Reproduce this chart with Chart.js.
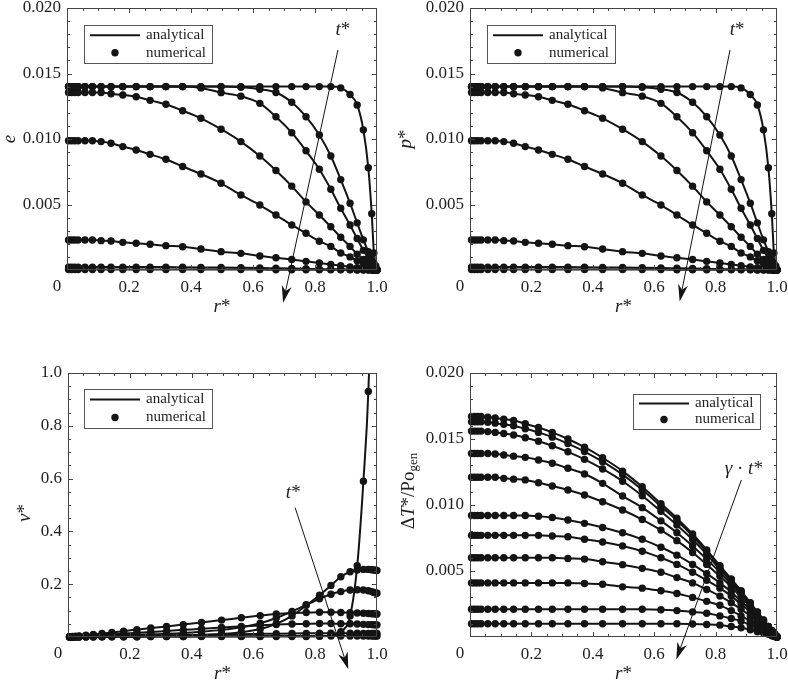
<!DOCTYPE html>
<html>
<head>
<meta charset="utf-8">
<script src="https://cdn.jsdelivr.net/npm/chart.js@4.4.1/dist/chart.umd.min.js"></script>
<style>
  html, body { margin: 0; padding: 0; background: #fff; overflow: hidden; }
  #wrap { position: relative; width: 788px; height: 682px; }
  canvas { position: absolute; }
</style>
</head>
<body>
<div id="wrap">
  <canvas id="cE" width="394" height="341" style="left:0;top:0"></canvas>
  <canvas id="cP" width="394" height="341" style="left:394px;top:0"></canvas>
  <canvas id="cV" width="394" height="341" style="left:0;top:341px"></canvas>
  <canvas id="cT" width="394" height="341" style="left:394px;top:341px"></canvas>
</div>
<script>
// radial grid r* (same nodes in every panel)
const rStar = [0.005, 0.015, 0.025, 0.036, 0.058, 0.082, 0.110, 0.142, 0.180, 0.223, 0.268, 0.319, 0.373, 0.432, 0.497, 0.561,
  0.622, 0.674, 0.725, 0.771, 0.814, 0.851, 0.883, 0.913, 0.936, 0.956, 0.972, 0.983, 0.990, 0.996, 1.000];

// e (and p*) profiles, one per time step
const e1 = [0.0140, 0.0140, 0.0140, 0.0140, 0.0140, 0.0140, 0.0140, 0.0140, 0.0140, 0.0140, 0.0140, 0.0140, 0.0140, 0.0140, 0.0140, 0.0140,
  0.0140, 0.0140, 0.0140, 0.0140, 0.0140, 0.0140, 0.0139, 0.0134, 0.0126, 0.0107, 0.0078, 0.0043, 0.0013, 0.0003, 0];
const e2 = [0.0140, 0.0140, 0.0140, 0.0140, 0.0140, 0.0140, 0.0140, 0.0140, 0.0140, 0.0140, 0.0140, 0.0140, 0.0140, 0.0140, 0.0140, 0.01395,
  0.0138, 0.01355, 0.0128, 0.0117, 0.0103, 0.0087, 0.0069, 0.0051, 0.0036, 0.0023, 0.0014, 0.0008, 0.0005, 0.0002, 0];
const e3 = [0.0140, 0.0140, 0.0140, 0.0140, 0.0140, 0.0140, 0.0140, 0.0140, 0.0140, 0.0140, 0.0140, 0.0140, 0.0140, 0.0139, 0.01354, 0.01327,
  0.01272, 0.0117, 0.01048, 0.0091, 0.00769, 0.00616, 0.00471, 0.00344, 0.0024, 0.0015, 0.0009, 0.0005, 0.0003, 0.0001, 0];
const e4 = [0.01355, 0.01355, 0.01355, 0.01355, 0.01355, 0.01355, 0.01355, 0.01345, 0.01336, 0.01323, 0.01295, 0.01265, 0.01216, 0.01158, 0.01075, 0.0098,
  0.0087, 0.0076, 0.0064, 0.0052, 0.0042, 0.0033, 0.0025, 0.0018, 0.0012, 0.0008, 0.0005, 0.0003, 0.0002, 0.0001, 0];
const e5 = [0.00987, 0.00987, 0.00987, 0.00987, 0.00987, 0.00987, 0.0098, 0.00967, 0.00942, 0.00916, 0.00883, 0.00845, 0.0079, 0.00733, 0.00662, 0.00573,
  0.00496, 0.0042, 0.00344, 0.0028, 0.0022, 0.0018, 0.0013, 0.0010, 0.0007, 0.0005, 0.0003, 0.0002, 0.0001, 0.00005, 0];
const e6 = [0.00229, 0.00229, 0.00229, 0.00229, 0.00229, 0.00229, 0.00224, 0.00221, 0.00211, 0.00204, 0.00196, 0.00186, 0.00178, 0.0016, 0.0014, 0.00127,
  0.00107, 0.00093, 0.0008, 0.00066, 0.00053, 0.00042, 0.00033, 0.00024, 0.00017, 0.00011, 0.00007, 0.00004, 0.00002, 0.00001, 0];
const e7 = [0.00022, 0.00022, 0.00022, 0.00022, 0.00022, 0.00022, 0.00022, 0.00022, 0.00022, 0.00022, 0.00022, 0.00022, 0.00021, 0.0002, 0.00019, 0.00017,
  0.00015, 0.00013, 0.00011, 0.00009, 0.00007, 0.00006, 0.00004, 0.00003, 0.00002, 0.00001, 0.00001, 0, 0, 0, 0];
const e8 = [0.00003, 0.00003, 0.00003, 0.00003, 0.00003, 0.00003, 0.00003, 0.00003, 0.00003, 0.00003, 0.00003, 0.00003, 0.00003, 0.00003, 0.00003, 0.00003,
  0.00003, 0.00002, 0.00002, 0.00002, 0.00001, 0.00001, 0.00001, 0.00001, 0, 0, 0, 0, 0, 0, 0];

// v* profiles
const v1 = [0.001, 0.001, 0.001, 0.001, 0.001, 0.001, 0.001, 0.001, 0.001, 0.001, 0.002, 0.002, 0.002, 0.002, 0.002, 0.002,
  0.002, 0.002, 0.002, 0.002, 0.003, 0.006, 0.02, 0.08, 0.27, 0.59, 0.93, 1.4, 2.0, 2.6, 3.0];
const v2 = [0.0005, 0.0008, 0.001, 0.0012, 0.0015, 0.002, 0.0025, 0.003, 0.0035, 0.004, 0.0045, 0.005, 0.006, 0.008, 0.011, 0.018,
  0.03, 0.05, 0.08, 0.12, 0.158, 0.195, 0.228, 0.247, 0.254, 0.256, 0.256, 0.255, 0.254, 0.253, 0.252];
const v3 = [0.0008, 0.001, 0.0015, 0.002, 0.003, 0.004, 0.005, 0.006, 0.007, 0.008, 0.01, 0.012, 0.015, 0.02, 0.027, 0.037,
  0.052, 0.072, 0.097, 0.122, 0.145, 0.162, 0.172, 0.178, 0.179, 0.178, 0.175, 0.172, 0.169, 0.167, 0.166];
const v4 = [0.001, 0.002, 0.003, 0.004, 0.007, 0.01, 0.013, 0.017, 0.022, 0.028, 0.034, 0.04, 0.047, 0.055, 0.064, 0.073,
  0.081, 0.087, 0.091, 0.093, 0.094, 0.094, 0.093, 0.092, 0.091, 0.09, 0.089, 0.088, 0.088, 0.087, 0.087];
const v5 = [0.0006, 0.001, 0.0015, 0.002, 0.004, 0.006, 0.008, 0.01, 0.013, 0.016, 0.019, 0.023, 0.027, 0.031, 0.036, 0.04,
  0.044, 0.047, 0.049, 0.05, 0.051, 0.051, 0.05, 0.05, 0.049, 0.048, 0.047, 0.047, 0.046, 0.046, 0.046];
const v6 = [0.0002, 0.0003, 0.0005, 0.0007, 0.001, 0.0015, 0.002, 0.0027, 0.0035, 0.0043, 0.0052, 0.0062, 0.0072, 0.0083, 0.0095, 0.0106,
  0.0117, 0.0126, 0.0133, 0.0138, 0.0141, 0.0142, 0.0142, 0.0141, 0.014, 0.0139, 0.0138, 0.0137, 0.0137, 0.0136, 0.0136];
const v7 = [0.0001, 0.0001, 0.0001, 0.0002, 0.0003, 0.0004, 0.0006, 0.0008, 0.001, 0.0012, 0.0015, 0.0018, 0.0021, 0.0024, 0.0027, 0.003,
  0.0033, 0.0036, 0.0038, 0.0039, 0.004, 0.004, 0.004, 0.004, 0.004, 0.004, 0.0039, 0.0039, 0.0039, 0.0039, 0.0039];

// temperature rise profiles, highest first
const dT1 = [0.0167, 0.0167, 0.0167, 0.0167, 0.01665, 0.01659, 0.0165, 0.0164, 0.01616, 0.01587, 0.0155, 0.0150, 0.01438, 0.01358, 0.01257, 0.01138,
  0.0101, 0.0090, 0.0078, 0.0066, 0.0054, 0.0044, 0.0035, 0.0026, 0.0019, 0.0013, 0.0008, 0.0005, 0.0003, 0.0001, 0];
const dT2 = [0.0163, 0.0163, 0.0163, 0.0163, 0.01626, 0.0162, 0.01611, 0.016, 0.01578, 0.0155, 0.01514, 0.01465, 0.01405, 0.01328, 0.0123, 0.01115,
  0.0099, 0.00882, 0.00765, 0.00648, 0.0053, 0.00432, 0.00344, 0.00256, 0.00187, 0.00128, 0.00079, 0.00049, 0.0003, 0.0001, 0];
const dT3 = [0.0156, 0.0156, 0.0156, 0.0156, 0.01556, 0.0155, 0.01542, 0.0153, 0.0151, 0.01483, 0.01449, 0.01403, 0.01346, 0.01273, 0.0118, 0.0107,
  0.00952, 0.00849, 0.00738, 0.00626, 0.00513, 0.00419, 0.00334, 0.00249, 0.00182, 0.00125, 0.00077, 0.00048, 0.00029, 0.0001, 0];
const dT4 = [0.0139, 0.0139, 0.0139, 0.0139, 0.0139, 0.01386, 0.01379, 0.0137, 0.01361, 0.01341, 0.01316, 0.01278, 0.01235, 0.01164, 0.01068, 0.0098,
  0.0088, 0.0079, 0.0069, 0.0059, 0.0049, 0.0040, 0.0032, 0.0024, 0.0017, 0.0012, 0.0007, 0.00045, 0.00027, 0.0001, 0];
const dT5 = [0.0121, 0.0121, 0.0121, 0.0121, 0.0121, 0.0121, 0.01202, 0.01196, 0.0119, 0.01169, 0.01144, 0.01114, 0.01076, 0.01025, 0.00962, 0.0089,
  0.0081, 0.0073, 0.0064, 0.0055, 0.0046, 0.0038, 0.0030, 0.0023, 0.0016, 0.0011, 0.0007, 0.0004, 0.00025, 0.0001, 0];
const dT6 = [0.0092, 0.0092, 0.0092, 0.0092, 0.0092, 0.0092, 0.0092, 0.0092, 0.0092, 0.00915, 0.00905, 0.00886, 0.00861, 0.0083, 0.0079, 0.0074,
  0.0068, 0.0062, 0.0055, 0.0048, 0.0041, 0.0034, 0.0027, 0.0021, 0.0015, 0.0010, 0.0006, 0.0004, 0.0002, 0.0001, 0];
const dT7 = [0.0077, 0.0077, 0.0077, 0.0077, 0.0077, 0.0077, 0.0077, 0.0077, 0.0077, 0.0077, 0.00765, 0.0076, 0.0074, 0.0072, 0.0069, 0.0065,
  0.0060, 0.0055, 0.0049, 0.0043, 0.0037, 0.0031, 0.0025, 0.0019, 0.0014, 0.0009, 0.0006, 0.0003, 0.0002, 0.0001, 0];
const dT8 = [0.0060, 0.0060, 0.0060, 0.0060, 0.0060, 0.0060, 0.0060, 0.0060, 0.0060, 0.0060, 0.0060, 0.00595, 0.0059, 0.0057, 0.00548, 0.0052,
  0.0049, 0.0045, 0.0041, 0.0036, 0.0031, 0.0026, 0.0021, 0.0016, 0.0012, 0.0008, 0.0005, 0.0003, 0.00015, 0.00005, 0];
const dT9 = [0.0041, 0.0041, 0.0041, 0.0041, 0.0041, 0.0041, 0.0041, 0.0041, 0.0041, 0.0041, 0.0041, 0.0041, 0.00405, 0.0040, 0.0038, 0.0037,
  0.0035, 0.0033, 0.0030, 0.0027, 0.0024, 0.0020, 0.0016, 0.0012, 0.0009, 0.0006, 0.0004, 0.0002, 0.0001, 0.00004, 0];
const dT10 = [0.0021, 0.0021, 0.0021, 0.0021, 0.0021, 0.0021, 0.0021, 0.0021, 0.0021, 0.0021, 0.0021, 0.0021, 0.0021, 0.0021, 0.0021, 0.0021,
  0.00207, 0.0020, 0.0019, 0.0018, 0.0016, 0.0014, 0.0012, 0.0009, 0.0007, 0.0005, 0.0003, 0.0002, 0.0001, 0.00003, 0];
const dT11 = [0.0010, 0.0010, 0.0010, 0.0010, 0.0010, 0.0010, 0.0010, 0.0010, 0.0010, 0.0010, 0.0010, 0.0010, 0.0010, 0.0010, 0.0010, 0.0010,
  0.0010, 0.0010, 0.00098, 0.00095, 0.0009, 0.0008, 0.0007, 0.00055, 0.0004, 0.0003, 0.0002, 0.0001, 0.00005, 0.00002, 0];

// tick labels
const rTicks = [0.2, 0.4, 0.6, 0.8, 1.0];
const smallTicks = [0.005, 0.010, 0.015, 0.020];
const vTicks = [0.2, 0.4, 0.6, 0.8, 1.0];
const legendLabels = ['analytical', 'numerical'];

const INK = '#141414';
const TEXT = '#1e1e1e';
const FRAME = '#454545';
const SERIF = '"Liberation Serif", "Times New Roman", Times, serif';

function font(size, italic) {
  return (italic ? 'italic ' : '') + size + 'px ' + SERIF;
}

// draw a run of text pieces centred on (x, y), optionally rotated for a y title
function richText(ctx, x, y, parts, rotate) {
  ctx.save();
  ctx.translate(x, y);
  if (rotate) ctx.rotate(-Math.PI / 2);
  ctx.textBaseline = 'middle';
  ctx.textAlign = 'left';
  ctx.fillStyle = TEXT;
  let w = 0;
  parts.forEach(p => { ctx.font = font(p.size || 19, p.it); w += ctx.measureText(p.t).width; });
  let cx = -w / 2;
  parts.forEach(p => {
    ctx.font = font(p.size || 19, p.it);
    ctx.fillText(p.t, cx, p.dy || 0);
    cx += ctx.measureText(p.t).width;
  });
  ctx.restore();
}

function drawArrow(ctx, x1, y1, x2, y2) {
  const ang = Math.atan2(y2 - y1, x2 - x1);
  const len = 17, half = 5, notch = 5;
  const c = Math.cos(ang), s = Math.sin(ang);
  const bx = x2 - c * (len - notch), by = y2 - s * (len - notch);
  const hx = x2 - c * len, hy = y2 - s * len;
  ctx.strokeStyle = INK;
  ctx.lineWidth = 1;
  ctx.beginPath();
  ctx.moveTo(x1, y1);
  ctx.lineTo(bx, by);
  ctx.stroke();
  ctx.fillStyle = INK;
  ctx.beginPath();
  ctx.moveTo(x2, y2);
  ctx.lineTo(hx - s * half, hy + c * half);
  ctx.lineTo(bx, by);
  ctx.lineTo(hx + s * half, hy - c * half);
  ctx.closePath();
  ctx.fill();
}

function decor(p) {
  return {
    id: 'decor',
    afterDatasetsDraw(chart) {
      const ctx = chart.ctx;
      const a = chart.chartArea;
      const xs = chart.scales.x, ys = chart.scales.y;
      ctx.save();

      // frame
      ctx.strokeStyle = FRAME;
      ctx.lineWidth = 1;
      ctx.strokeRect(Math.round(a.left) + 0.5, Math.round(a.top) + 0.5,
        Math.round(a.right - a.left) - 1, Math.round(a.bottom - a.top) - 1);

      // inward ticks on all four sides
      ctx.beginPath();
      for (let k = 1; k < 20; k++) {
        const px = Math.round(xs.getPixelForValue(k * 0.05)) + 0.5;
        const L = k % 4 === 0 ? 5 : 3;
        ctx.moveTo(px, a.bottom); ctx.lineTo(px, a.bottom - L);
        ctx.moveTo(px, a.top); ctx.lineTo(px, a.top + L);
      }
      const nMinor = Math.round(p.yMax / p.yMinor);
      for (let k = 1; k < nMinor; k++) {
        const py = Math.round(ys.getPixelForValue(k * p.yMinor)) + 0.5;
        const L = k % p.minorPer === 0 ? 5 : 3;
        ctx.moveTo(a.left, py); ctx.lineTo(a.left + L, py);
        ctx.moveTo(a.right, py); ctx.lineTo(a.right - L, py);
      }
      ctx.stroke();

      // corner zero
      ctx.fillStyle = TEXT;
      ctx.font = font(17);
      ctx.textAlign = 'center';
      ctx.textBaseline = 'middle';
      ctx.fillText('0', a.left - 10, a.bottom + 17);

      // axis titles
      richText(ctx, (a.left + a.right) / 2, a.bottom + 37, [{ t: 'r', it: true }, { t: '*' }], false);
      richText(ctx, p.titleX, p.titleY, p.title, true);

      // legend
      const lg = p.legend;
      const bx = lg.fromRight ? a.right - lg.dx - lg.w : a.left + lg.dx;
      const by = a.top + lg.dy;
      ctx.fillStyle = '#fff';
      ctx.fillRect(bx, by, lg.w, lg.h);
      ctx.strokeStyle = '#555';
      ctx.lineWidth = 1;
      ctx.strokeRect(Math.round(bx) + 0.5, Math.round(by) + 0.5, lg.w, lg.h);
      const r1 = by + lg.h * 0.27, r2 = by + lg.h * 0.73;
      ctx.strokeStyle = INK;
      ctx.lineWidth = 2;
      ctx.beginPath();
      ctx.moveTo(bx + 6, r1); ctx.lineTo(bx + 56, r1);
      ctx.stroke();
      ctx.fillStyle = INK;
      ctx.beginPath();
      ctx.arc(bx + 31, r2, 3.7, 0, Math.PI * 2);
      ctx.fill();
      ctx.fillStyle = TEXT;
      ctx.font = font(15);
      ctx.textAlign = 'left';
      ctx.textBaseline = 'middle';
      ctx.fillText(legendLabels[0], bx + 62, r1);
      ctx.fillText(legendLabels[1], bx + 62, r2);

      // time arrow
      const ar = p.arrow;
      drawArrow(ctx, xs.getPixelForValue(ar.from[0]), ys.getPixelForValue(ar.from[1]),
        xs.getPixelForValue(ar.to[0]), ys.getPixelForValue(ar.to[1]));
      richText(ctx, xs.getPixelForValue(ar.at[0]), ys.getPixelForValue(ar.at[1]), ar.text, false);

      ctx.restore();
    }
  };
}

function makePanel(p) {
  const W = 394, H = 341;
  const datasets = p.series.map(ys => ({
    data: rStar.map((x, i) => ({ x: x, y: ys[i] })),
    showLine: true,
    borderColor: INK,
    borderWidth: 2,
    backgroundColor: INK,
    pointRadius: 3.7,
    pointBorderWidth: 0,
    pointBackgroundColor: INK,
    cubicInterpolationMode: 'monotone',
    clip: { left: 6, right: 6, bottom: 6, top: p.clipTop }
  }));
  new Chart(document.getElementById(p.id), {
    type: 'scatter',
    data: { datasets },
    options: {
      responsive: false,
      animation: false,
      events: [],
      layout: { padding: { left: 0, top: p.area.t, right: W - p.area.r, bottom: 0 } },
      plugins: { legend: { display: false }, tooltip: { enabled: false } },
      scales: {
        x: {
          type: 'linear', min: 0, max: 1,
          afterBuildTicks: s => { s.ticks = rTicks.map(v => ({ value: v })); },
          afterFit: s => { s.height = H - p.area.b; s.paddingLeft = 0; s.paddingRight = 0; },
          ticks: { callback: v => v.toFixed(1), font: { family: SERIF, size: 17 }, color: TEXT, padding: 7, maxRotation: 0, autoSkip: false },
          grid: { display: false, drawTicks: false },
          border: { display: false }
        },
        y: {
          type: 'linear', min: 0, max: p.yMax,
          afterBuildTicks: s => { s.ticks = p.yTicks.map(v => ({ value: v })); },
          afterFit: s => { s.width = p.area.l; s.paddingTop = 0; s.paddingBottom = 0; },
          ticks: { callback: v => v.toFixed(p.digits), font: { family: SERIF, size: 17 }, color: TEXT, padding: 6, autoSkip: false },
          grid: { display: false, drawTicks: false },
          border: { display: false }
        }
      }
    },
    plugins: [decor(p)]
  });
}

const tStar = [{ t: 't', it: true }, { t: '*' }];

makePanel({
  id: 'cE', area: { l: 67, t: 8, r: 377, b: 270 },
  yMax: 0.020, yTicks: smallTicks, digits: 3, yMinor: 0.001, minorPer: 5, clipTop: 6,
  series: [e1, e2, e3, e4, e5, e6, e7, e8],
  title: [{ t: 'e', it: true }], titleX: 10, titleY: 139,
  legend: { dx: 17, dy: 17, w: 128, h: 38, fromRight: false },
  arrow: { from: [0.874, 0.0168], to: [0.697, -0.0025], at: [0.89, 0.0183], text: tStar }
});

makePanel({
  id: 'cP', area: { l: 76, t: 8, r: 383, b: 270 },
  yMax: 0.020, yTicks: smallTicks, digits: 3, yMinor: 0.001, minorPer: 5, clipTop: 6,
  series: [e1, e2, e3, e4, e5, e6, e7, e8],
  title: [{ t: 'p', it: true }, { t: '*' }], titleX: 12, titleY: 139,
  legend: { dx: 17, dy: 17, w: 128, h: 38, fromRight: false },
  arrow: { from: [0.847, 0.0168], to: [0.683, -0.0024], at: [0.87, 0.0183], text: tStar }
});

makePanel({
  id: 'cV', area: { l: 68, t: 32, r: 377, b: 296 },
  yMax: 1.0, yTicks: vTicks, digits: 1, yMinor: 0.05, minorPer: 4, clipTop: 0,
  series: [v1, v2, v3, v4, v5, v6, v7],
  title: [{ t: 'v', it: true }, { t: '*' }], titleX: 25, titleY: 172,
  legend: { dx: 16, dy: 16, w: 128, h: 39, fromRight: false },
  arrow: { from: [0.735, 0.49], to: [0.907, -0.122], at: [0.729, 0.545], text: tStar }
});

makePanel({
  id: 'cT', area: { l: 76, t: 32, r: 383, b: 296 },
  yMax: 0.020, yTicks: smallTicks, digits: 3, yMinor: 0.001, minorPer: 5, clipTop: 6,
  series: [dT1, dT2, dT3, dT4, dT5, dT6, dT7, dT8, dT9, dT10, dT11],
  title: [{ t: '\u0394' }, { t: 'T', it: true }, { t: '*/Po' }, { t: 'gen', size: 13, dy: 5 }], titleX: 15, titleY: 150,
  legend: { dx: 17, dy: 21, w: 127, h: 35, fromRight: true },
  arrow: { from: [0.884, 0.0119], to: [0.672, -0.0017], at: [0.892, 0.0127], text: [{ t: '\u03b3', it: true }, { t: ' \u00b7 ' }, { t: 't', it: true }, { t: '*' }] }
});
</script>
</body>
</html>
